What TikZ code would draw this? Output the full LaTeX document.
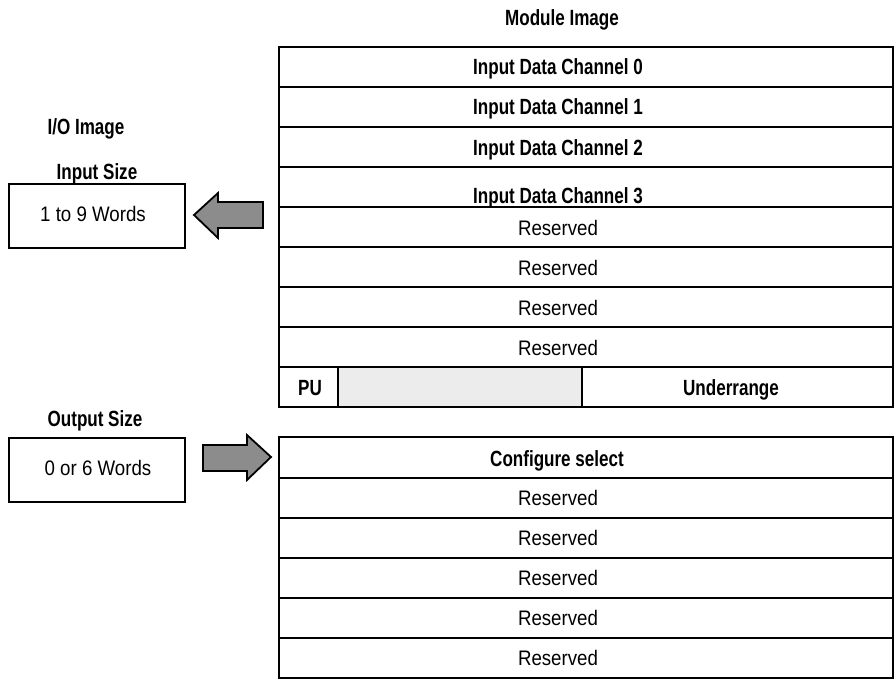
\documentclass[tikz,border=0pt]{standalone}
\usepackage{fontspec}
\setmainfont{Liberation Sans}
\newfontfamily\regf{Liberation Sans}[FakeStretch=0.89]
\newfontfamily\boldf{Liberation Sans}[FakeStretch=0.775]
\definecolor{arrowgrey}{HTML}{8C8C8C}
\definecolor{cellgrey}{HTML}{ECECEC}
\begin{document}
\begin{tikzpicture}[x=1pt,y=-1pt,
  bt/.style={font=\boldf\bfseries\fontsize{22}{24}\selectfont, anchor=base, inner sep=0pt},
  rt/.style={font=\regf\fontsize{21}{23}\selectfont, anchor=base, inner sep=0pt},
  ln/.style={line width=1.8pt},
  blockarrow/.style={line width=1.8pt, fill=arrowgrey, line join=miter},
  sidebox/.style={draw, line width=1.6pt, minimum width=176pt, minimum height=64pt, inner sep=0pt}]
\useasboundingbox (0,0) rectangle (896,679);

% ---------- Module image (input) ----------
\fill[cellgrey] (338,367) rectangle (582,407);
\draw[ln] (279,47) rectangle (893,407);
\foreach \yy in {87,127,167,207,247,287,327,367}
  \draw[ln] (279,\yy) -- (893,\yy);
\draw[ln] (338,367) -- (338,407);
\draw[ln] (582,367) -- (582,407);

\node[bt] (title) at (562,26) {Module Image};
\node[bt] (ch0) at (558,75) {Input Data Channel 0};
\node[bt] (ch1) at (558,115) {Input Data Channel 1};
\node[bt] (ch2) at (558,156) {Input Data Channel 2};
\node[bt] (ch3) at (558,204) {Input Data Channel 3};
\node[rt] (r1) at (558,235) {Reserved};
\node[rt] (r2) at (558,275) {Reserved};
\node[rt] (r3) at (558,315) {Reserved};
\node[rt] (r4) at (558,355) {Reserved};
\node[bt] (pu) at (310,395) {PU};
\node[bt] (under) at (731,395) {Underrange};

% ---------- Module image (output) ----------
\draw[ln] (279,437) rectangle (893,678);
\foreach \yy in {478,518,558,598,638}
  \draw[ln] (279,\yy) -- (893,\yy);
\node[bt] (cfg) at (557,466) {Configure select};
\node[rt] (o1) at (558,505) {Reserved};
\node[rt] (o2) at (558,545) {Reserved};
\node[rt] (o3) at (558,585) {Reserved};
\node[rt] (o4) at (558,625) {Reserved};
\node[rt] (o5) at (558,665) {Reserved};

% ---------- I/O image ----------
\node[bt] (io) at (86,135) {I/O Image};
\node[bt] (insize) at (97,180) {Input Size};
\node[sidebox] (inbox) at (97,216) {};
\node[rt] (inwords) at (93,221) {1 to 9 Words};

\node[bt] (outsize) at (95,426) {Output Size};
\node[sidebox] (outbox) at (97,470) {};
\node[rt] (outwords) at (98,475) {0 or 6 Words};

% ---------- block arrows ----------
\draw[blockarrow] (194,215) -- (218,193) -- (218,202) -- (263,202) -- (263,228)
  -- (218,228) -- (218,238) -- cycle;
\draw[blockarrow] (203,445) -- (247,445) -- (247,435) -- (271,457) -- (247,480)
  -- (247,471) -- (203,471) -- cycle;
\end{tikzpicture}
\end{document}
